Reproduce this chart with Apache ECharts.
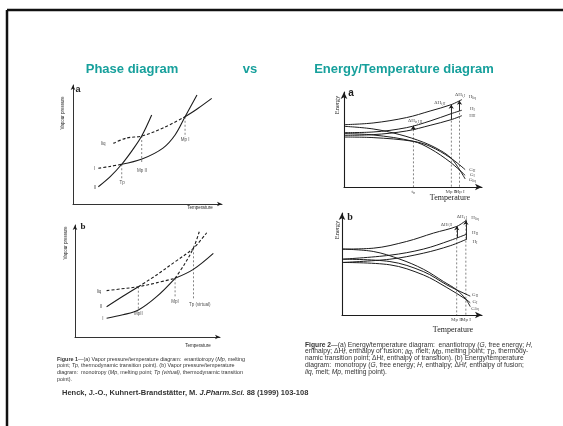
<!DOCTYPE html>
<html><head><meta charset="utf-8">
<script src="https://cdn.jsdelivr.net/npm/echarts@6/dist/echarts.min.js"></script>
<style>html,body{margin:0;padding:0;background:#fff}#c{width:563px;height:426px}</style>
</head><body><div id="c"></div>
<script>
// ---------- Panel 1a: vapour pressure / temperature, enantiotropy ----------
const vpA_II = [[17,14.5],[25,23],[32.7,33.4],[40,45.5],[46.1,57.1],[52.8,74.8]];
const vpA_I_dashed = [[17,30],[25,31.6],[32.7,33.4]];
const vpA_I = [[32.7,33.4],[46.3,37.8],[60.4,47],[68.5,58],[75.2,73.3],[83.2,91.6]];
const vpA_liq_dashed = [[27,51],[36.2,55.5],[46.1,57.1],[60.4,63.9],[75.2,73.3]];
const vpA_liq = [[75.2,73.3],[84,80.5],[93.1,88.8]];
const vpA_drops = [[32.7,33.4,21],[46.1,57.1,35.3],[75.2,73.3,56.3]];
const vpA_labels = [[20.3,51,'liq'],[14.5,30,'I'],[14.8,14,'II'],[32.9,17.6,'Tp'],[46.3,27.7,'Mp II'],[75.2,53.8,'Mp I']];

// ---------- Panel 1b: vapour pressure / temperature, monotropy ----------
const vpB_liq_dashed = [[21.8,41.4],[32,43],[43.7,44.9],[56,48.3],[69,52.4]];
const vpB_liq = [[69,52.4],[81.6,60.4],[95.4,74.7]];
const vpB_II = [[21.8,27],[33.3,36.6],[43.7,44.9]];
const vpB_II_dashed = [[43.7,44.9],[56.3,55.4],[69,67.2],[81.6,79.2],[90.8,93.1]];
const vpB_I = [[21.8,16.7],[33,19.8],[43.7,24.1],[56.3,36],[69,52.4]];
const vpB_I_dashed = [[69,52.4],[75.5,65],[81.6,79.2],[85.7,94]];
const vpB_drops = [[43.7,44.9,24.1],[69,52.4,34.5],[81.6,79.2,33]];
const vpB_labels = [[16.5,40.5,'liq'],[18,27,'II'],[19.2,16.7,'I'],[43.7,20.5,'MpII'],[69,31.2,'MpI'],[86,28.5,'Tp (virtual)']];

// ---------- Panel 2a: energy / temperature, enantiotropy ----------
const etA_Hliq = [[0,65.6],[21.1,67.4],[45.4,73.1],[62.4,80],[77.7,86.7],[85.4,92]];
const etA_HI = [[0,57.2],[21.1,57.9],[45.4,62.5],[62.4,69.5],[77.7,77.2],[85.4,80.8]];
const etA_HII = [[0,54.4],[21.1,55.1],[45.4,59],[62.4,64.9],[77.7,70.9],[85.4,75.1]];
const etA_Gliq = [[0,63.9],[21.1,61.1],[40.5,55.1],[57.5,47.1],[69.7,38.6],[77.7,30.2],[83.7,18.3],[87.8,8.5]];
const etA_GI = [[0,56.2],[21.1,54.8],[50.2,48.1],[62.4,40.4],[76.9,26.3],[87.8,12.3]];
const etA_GII = [[0,52.6],[21.1,52],[50.2,48.1],[62.4,42.8],[76.9,30.9],[87.8,18.3]];
const etA_drops = [[50.2,60.7,0],[77.7,86.7,0],[83.7,90.8,0]];
const etA_arrows = [[50.2,60.7,64.5],[77.7,70.9,86.7],[83.7,80,90.8]];
const etA_labels = [[69.5,89,'ΔH{s|f,II}'],[84.1,97,'ΔH{s|f,I}'],[93,95,'H{s|liq}'],[93,82.5,'H{s|I}'],[93,75.5,'H{s|II}'],
  [51.5,70,'ΔH{s|tr,I,II}'],[93,18.3,'G{s|II}'],[93,13,'G{s|I}'],[93,7.7,'G{s|liq}'],[50.2,-5,'t{s|tr}'],[77.7,-5,'Mp II'],[83.9,-5,'Mp I']];

// ---------- Panel 2b: energy / temperature, monotropy ----------
const etB_Hliq = [[0,64.6],[22.3,65.5],[46.2,72.1],[65.3,80.3],[82,86.9],[89.2,93.4]];
const etB_HII = [[0,54.7],[34.2,58.6],[58.1,64.6],[77.3,73.1],[89.2,79.3]];
const etB_HI = [[0,51.5],[34.2,54.7],[58.1,60.6],[77.3,67.9],[89.2,74.4]];
const etB_Gliq = [[0,64.6],[22.3,62.3],[41.4,54.7],[58.1,44.9],[72.5,32.8],[82,24.6],[88.5,15.4],[91.6,8.2]];
const etB_GII = [[0,54.7],[34.2,52.4],[58.1,42.6],[74.9,29.5],[82,24.6],[91.6,18.5]];
const etB_GI = [[0,51.5],[34.2,49.2],[58.1,39.3],[74.9,26.9],[88.5,15.4],[91.6,12]];
const etB_drops = [[82,86.9,0],[88.5,92.5,0]];
const etB_arrows = [[82,75.5,86.9],[88.5,74,92.5]];
const etB_labels = [[74.5,89,'ΔH{s|f,II}'],[85.6,96.5,'ΔH{s|f,I}'],[95,95,'H{s|liq}'],[95,81,'H{s|II}'],[95,72.1,'H{s|I}'],
  [95,19.7,'G{s|II}'],[95,13.1,'G{s|I}'],[95,6.6,'G{s|liq}'],[82,-5,'Mp II'],[88.5,-5,'Mp I']];

// ---------- texts ----------
const titles = ['Phase diagram','vs','Energy/Temperature diagram'];
const cap1 = ['{b|Figure 1}—(a) Vapor pressure/temperature diagram:  enantiotropy ({i|Mp}, melting',
  'point; {i|Tp}, thermodynamic transition point). (b) Vapor pressure/temperature',
  'diagram:  monotropy ({i|Mp}, melting point; {i|Tp (virtual)}, thermodynamic transition',
  'point).'];
const cap2 = ['{b|Figure 2}—(a) Energy/temperature diagram:  enantiotropy ({i|G}, free energy; {i|H},',
  'enthalpy; ΔH{i|f}, enthalpy of fusion; {i|liq}, melt; {i|Mp}, melting point; {i|Tp}, thermody-',
  'namic transition point; ΔH{i|t}, enthalpy of transition). (b) Energy/temperature',
  'diagram:  monotropy ({i|G}, free energy; {i|H}, enthalpy; ΔH{i|f}, enthalpy of fusion;',
  '{i|liq}, melt; {i|Mp}, melting point).'];
const refText = '{n|Henck, J.-O., Kuhnert-Brandstätter, M. }{i|J.Pharm.Sci.}{n| 88 (1999) 103-108}';

const INK = '#1c1c1c';
const SANS = 'Liberation Sans, Arial, sans-serif';
const SERIF = 'Liberation Serif, Times New Roman, serif';

const grids = [
  {left:73, top:85, width:149, height:119},
  {left:75, top:225, width:145, height:112},
  {left:344, top:92, width:138, height:95},
  {left:342, top:213, width:140, height:102}
];
function axis(i, big) {
  return {type:'value', gridIndex:i, min:0, max:100,
    axisLine:{show:true, onZero:false, symbol:['none','arrow'], symbolSize: big?[5,7]:[3.5,5], lineStyle:{color:INK, width: big?1.1:0.9}},
    axisTick:{show:false}, axisLabel:{show:false}, splitLine:{show:false}};
}
function curve(gi, data, dashed, w) {
  return {type:'line', xAxisIndex:gi, yAxisIndex:gi, data:data, smooth:0.35, showSymbol:false, symbol:'none',
    silent:true, animation:false, lineStyle:{color:INK, width:w||1.1, type: dashed?[3,2]:'solid'}, z:3};
}
function drop(gi, d) {
  return {type:'line', xAxisIndex:gi, yAxisIndex:gi, data:[[d[0],d[1]],[d[0],d[2]]], showSymbol:false, symbol:'none',
    silent:true, animation:false, lineStyle:{color:'#333', width:0.6, type:[2,2]}, z:2};
}
function arrows(gi, list) {
  return {type:'line', xAxisIndex:gi, yAxisIndex:gi, data:[], silent:true, animation:false,
    markLine:{silent:true, animation:false, symbol:['none','arrow'], symbolSize:4, label:{show:false},
      lineStyle:{color:INK, width:0.9, type:'solid'},
      data:list.map(a=>[{coord:[a[0],a[1]]},{coord:[a[0],a[2]]}])}};
}
function labels(gi, list, font, size) {
  return {type:'scatter', xAxisIndex:gi, yAxisIndex:gi, symbolSize:0, clip:false, silent:true, animation:false,
    data:list.map(l=>({value:[l[0],l[1]], name:l[2]})),
    label:{show:true, position:'inside', formatter:p=>p.name, fontFamily:font, fontSize:size, color:INK,
      rich:{s:{fontFamily:font, fontSize:size*0.7, color:INK, padding:[size*0.5,0,0,0]}}}, z:5};
}

const series = [];
series.push(curve(0,vpA_II,false), curve(0,vpA_I_dashed,true), curve(0,vpA_I,false), curve(0,vpA_liq_dashed,true), curve(0,vpA_liq,false));
vpA_drops.forEach(d=>series.push(drop(0,d)));
series.push(labels(0,vpA_labels,SANS,4.5));

series.push(curve(1,vpB_liq_dashed,true), curve(1,vpB_liq,false), curve(1,vpB_II,false), curve(1,vpB_II_dashed,true), curve(1,vpB_I,false), curve(1,vpB_I_dashed,true));
vpB_drops.forEach(d=>series.push(drop(1,d)));
series.push(labels(1,vpB_labels,SANS,4.5));

[etA_Hliq,etA_HI,etA_HII,etA_Gliq,etA_GI,etA_GII].forEach(c=>series.push(curve(2,c,false,1)));
etA_drops.forEach(d=>series.push(drop(2,d)));
series.push(arrows(2,etA_arrows));
series.push(labels(2,etA_labels,SERIF,5));

[etB_Hliq,etB_HII,etB_HI,etB_Gliq,etB_GII,etB_GI].forEach(c=>series.push(curve(3,c,false,1)));
etB_drops.forEach(d=>series.push(drop(3,d)));
series.push(arrows(3,etB_arrows));
series.push(labels(3,etB_labels,SERIF,5));

function txt(x,y,text,font,opts) {
  return Object.assign({type:'text', x:x, y:y, silent:true,
    style:Object.assign({text:text, font:font, fill:INK, textAlign:'center', textVerticalAlign:'middle'}, (opts&&opts.style)||{})},
    opts&&opts.rot!==undefined?{rotation:opts.rot}:{});
}
const TEAL = '#17a09c';
const graphic = [
  {type:'line', shape:{x1:7, y1:10, x2:563, y2:10}, style:{stroke:'#111', lineWidth:2.5}, silent:true},
  {type:'line', shape:{x1:7, y1:10, x2:7, y2:426}, style:{stroke:'#111', lineWidth:2.5}, silent:true},
  txt(132,69,titles[0],'bold 13px '+SANS,{style:{fill:TEAL}}),
  txt(250,69,titles[1],'bold 13px '+SANS,{style:{fill:TEAL}}),
  txt(404,69,titles[2],'bold 13px '+SANS,{style:{fill:TEAL}}),
  txt(78,90,'a','bold 9px '+SANS),
  txt(63,113,'Vapour pressure','4.5px '+SANS,{rot:Math.PI/2}),
  txt(200,208,'Temperature','4.5px '+SANS),
  txt(83,227,'b','bold 9px '+SERIF),
  txt(66,243,'Vapour pressure','4.5px '+SANS,{rot:Math.PI/2}),
  txt(198,346,'Temperature','4.5px '+SANS),
  txt(351,93,'a','bold 10px '+SANS),
  txt(337,105,'Energy','6.5px '+SERIF,{rot:Math.PI/2}),
  txt(450,198,'Temperature','8px '+SERIF),
  txt(350,217,'b','bold 10px '+SERIF),
  txt(337,230,'Energy','6.5px '+SERIF,{rot:Math.PI/2}),
  txt(453,330,'Temperature','8px '+SERIF)
];
const capFont = 'Liberation Sans Narrow, Arial Narrow, sans-serif';
function capRich(sz){ return {b:{fontWeight:'bold', fontFamily:capFont, fontSize:sz, fill:'#333'}, i:{fontStyle:'italic', fontFamily:capFont, fontSize:sz, fill:'#333'}}; }
cap1.forEach((t,k)=>graphic.push({type:'text', x:57, y:359+k*6.7, scaleX:0.9, silent:true,
  style:{text:t, fontFamily:capFont, fontSize:6, fill:'#333', textAlign:'left', textVerticalAlign:'middle', rich:capRich(6)}}));
cap2.forEach((t,k)=>graphic.push({type:'text', x:305, y:345+k*6.7, scaleX:1.03, silent:true,
  style:{text:t, fontFamily:capFont, fontSize:6.5, fill:'#333', textAlign:'left', textVerticalAlign:'middle', rich:capRich(6.5)}}));
graphic.push({type:'text', x:62, y:393, silent:true,
  style:{text:refText, textAlign:'left', textVerticalAlign:'middle',
    rich:{n:{fontFamily:SANS, fontWeight:'bold', fontSize:7.5, fill:'#333'}, i:{fontFamily:SANS, fontWeight:'bold', fontStyle:'italic', fontSize:7.5, fill:'#333'}}}});

const chart = echarts.init(document.getElementById('c'), null, {renderer:'canvas'});
chart.setOption({
  animation:false, backgroundColor:'#fff',
  grid:grids,
  xAxis:[axis(0,false),axis(1,false),axis(2,true),axis(3,true)],
  yAxis:[axis(0,false),axis(1,false),axis(2,true),axis(3,true)],
  series:series,
  graphic:graphic
});
</script></body></html>
